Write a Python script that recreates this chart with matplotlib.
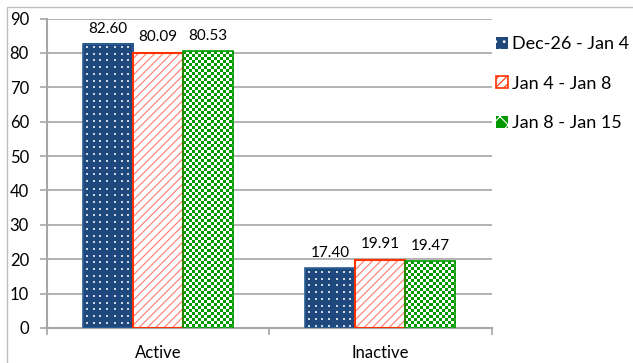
import numpy as np
import matplotlib
matplotlib.use("Agg")
import matplotlib.pyplot as plt
from matplotlib.patches import Patch, Rectangle

plt.rcParams['font.family'] = ['Lato', 'DejaVu Sans']
plt.rcParams['hatch.linewidth'] = 0.8

# Share of users per status, for three date windows
categories = ["Active", "Inactive"]
periods = ["Dec-26 - Jan 4", "Jan 4 - Jan 8", "Jan 8 - Jan 15"]
dec26_jan4 = [82.60, 17.40]
jan4_jan8 = [80.09, 19.91]
jan8_jan15 = [80.53, 19.47]
series = [dec26_jan4, jan4_jan8, jan8_jan15]

navy = "#1F497D"
red = "#FF3300"
green = "#009A00"
grid_gray = "#A6A6A6"

W, H = 633, 363
fig = plt.figure(figsize=(W / 100, H / 100), dpi=100)
ax = fig.add_axes([47 / W, 1 - 328 / H, (491.5 - 47) / W, (328 - 18.5) / H])
# fix limits first so the texture sizes below come out in real pixels
ax.set_xlim(-0.5, 1.5)
ax.set_ylim(0, 90)

x = np.arange(len(categories))
width = 0.225
offsets = [-width, 0, width]


def pixel_box(patch):
    x0, y0 = patch.get_x(), patch.get_y()
    x1, y1 = x0 + patch.get_width(), y0 + patch.get_height()
    (px0, py0), (px1, py1) = ax.transData.transform([(x0, y0), (x1, y1)])
    return (x0, x1, y0, y1), int(round(px1 - px0)), int(round(py1 - py0))


def dotted(nx, ny):
    img = np.ones((ny, nx, 3)) * np.array([31, 73, 125]) / 255
    for cx in np.arange(3.5, nx - 2, 6.7):
        for cy in np.arange(3.5, ny - 1, 6.7):
            i, j = int(cy), int(cx)
            img[i:i + 2, j:j + 2] = np.array([205, 214, 226]) / 255
    return img


def checker(nx, ny, cell=3):
    yy, xx = np.mgrid[0:ny, 0:nx]
    mask = ((xx // cell) + (yy // cell)) % 2 == 0
    img = np.ones((ny, nx, 3))
    img[mask] = np.array([0, 154, 0]) / 255
    return img


bar_sets = []
for k, (vals, off) in enumerate(zip(series, offsets)):
    if k == 1:
        bars = ax.bar(x + off, vals, width, facecolor="white", edgecolor="#FF7A6E",
                      hatch="////", linewidth=0, zorder=2)
        ax.bar(x + off, vals, width, facecolor="none", edgecolor=red,
               linewidth=1.5, zorder=4)
    else:
        bars = ax.bar(x + off, vals, width, facecolor="none", linewidth=0, zorder=2)
        for b in bars:
            ext, nx, ny = pixel_box(b)
            tex = dotted(nx, ny) if k == 0 else checker(nx, ny)
            ax.imshow(tex, extent=ext, origin="upper", interpolation="nearest",
                      aspect="auto", zorder=3)
        edge = "#2E5E94" if k == 0 else green
        ax.bar(x + off, vals, width, facecolor="none", edgecolor=edge,
               linewidth=1.2, zorder=4)
    bar_sets.append(bars)
    for b, v in zip(bars, vals):
        ax.annotate(f"{v:.2f}", (b.get_x() + b.get_width() / 2, v),
                    xytext=(0, 6), textcoords="offset points",
                    ha="center", va="bottom", fontsize=11)

ax.set_xlim(-0.5, 1.5)
ax.set_ylim(0, 90)
ax.set_yticks(np.arange(0, 91, 10))
ax.yaxis.grid(True, color=grid_gray, linewidth=1.2)
ax.set_axisbelow(True)

ax.set_xticks(x)
ax.set_xticklabels(categories, fontsize=12)
ax.set_xticks([-0.5, 0.5, 1.5], minor=True)
ax.tick_params(axis="x", which="major", length=0, pad=12)
ax.tick_params(axis="x", which="minor", length=5, width=1.2, color=grid_gray)
ax.tick_params(axis="y", length=5, width=1.2, color=grid_gray, pad=8, labelsize=12)

for s in ["top", "right"]:
    ax.spines[s].set_visible(False)
for s in ["left", "bottom"]:
    ax.spines[s].set_color(grid_gray)
    ax.spines[s].set_linewidth(1.5)

# legend swatches
handles = [
    Patch(facecolor=navy, edgecolor="white", hatch="..", linewidth=0),
    Patch(facecolor="white", edgecolor=red, hatch="////", linewidth=1.2),
    Patch(facecolor=green, edgecolor="white", hatch="xx", linewidth=0),
]
fig.legend(handles, periods, loc="upper left", bbox_to_anchor=(489 / W, 1 - 29 / H),
           frameon=False, fontsize=13, handlelength=0.65, handleheight=0.65,
           handletextpad=0.25, labelspacing=1.3, borderaxespad=0)

# outer frame of the chart area
fig.patches.append(Rectangle((7 / W, -0.2), 1.2, 1.2 - 7 / H, transform=fig.transFigure,
                             facecolor="none", edgecolor="#BFBFBF", linewidth=1))

fig.savefig("out.png", dpi=100)
